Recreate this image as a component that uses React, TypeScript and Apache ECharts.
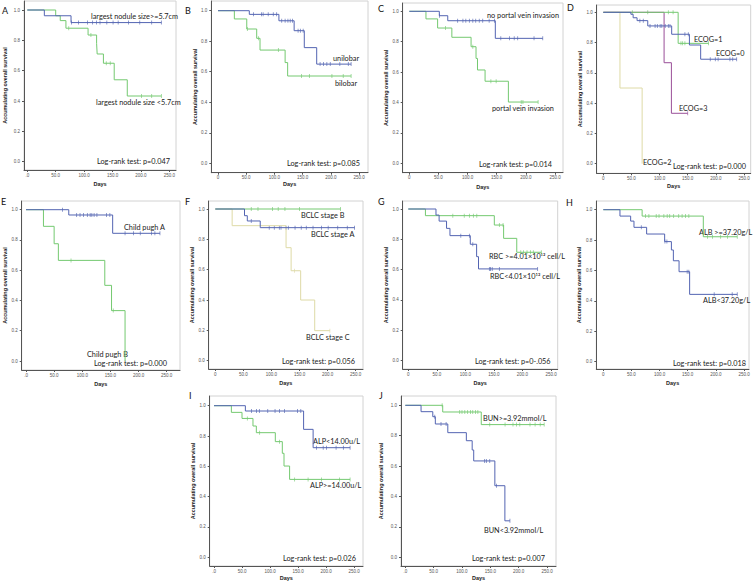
import React, { useEffect, useRef } from "react";
import * as echarts from "echarts";

// ---------- colours ----------
const BLUE = "#5364b2";
const GREEN = "#74c970";
const YELLOW = "#dedaa6";
const PURPLE = "#9a4f98";

// ---------- tick values ----------
const xTickValues = [0, 50, 100, 150, 200, 250];
const yTickValues = [0, 0.2, 0.4, 0.6, 0.8, 1.0];

// ---------- Panel A: largest nodule size ----------
const aBigTimes = [0, 30, 77, 236];
const aBigSurv = [1, 0.962, 0.917, 0.917];
const aBigCensor = [78, 90, 106, 115, 122, 128, 140, 151, 160, 178, 198, 219, 236];
const aSmallTimes = [0, 50, 58, 68, 107, 122, 123, 134, 153, 176, 236];
const aSmallSurv = [1, 0.962, 0.93, 0.88, 0.835, 0.78, 0.71, 0.649, 0.54, 0.433, 0.433];
const aSmallCensor = [73, 112, 139, 146, 201, 219, 236];

// ---------- Panel B: lobar ----------
const bUniTimes = [0, 55.5, 108, 135, 153, 175, 236];
const bUniSurv = [1, 0.976, 0.934, 0.869, 0.758, 0.65, 0.65];
const bUniCensor = [63, 77, 80, 89, 98, 104, 113, 119, 124, 128, 132, 142, 146, 151, 181, 187, 193, 199, 216, 231, 236];
const bBiTimes = [0, 29, 51, 68.6, 74.5, 119, 123.5, 236];
const bBiSurv = [1, 0.946, 0.88, 0.819, 0.742, 0.66, 0.572, 0.572];
const bBiCensor = [52, 72, 107, 148, 162, 202, 222, 236];

// ---------- Panel C: portal vein invasion ----------
const cNoTimes = [0, 51.5, 66, 147.6, 229];
const cNoSurv = [1, 0.971, 0.938, 0.822, 0.822];
const cNoCensor = [52, 83, 92, 97, 103, 109, 114, 120, 126, 137, 146, 157, 172, 180, 186, 214, 229];
const cYesTimes = [0, 28.6, 48.6, 73, 106, 114.5, 117, 130, 170, 221];
const cYesSurv = [1, 0.95, 0.89, 0.829, 0.767, 0.69, 0.614, 0.54, 0.403, 0.403];
const cYesCensor = [62, 109, 140, 149, 192, 195, 221];

// ---------- Panel D: ECOG ----------
const dE0Times = [0, 49, 53, 60, 79, 121.5, 153, 173, 237];
const dE0Surv = [1, 0.987, 0.964, 0.945, 0.91, 0.855, 0.784, 0.69, 0.69];
const dE0Censor = [65, 71, 83, 92, 96, 101, 104, 110, 115.5, 118.5, 145, 151, 190, 199, 204, 225, 230, 237];
const dE1Times = [0, 133, 187];
const dE1Surv = [1, 0.795, 0.795];
const dE1Censor = [51.5, 79, 115.5, 124, 138, 141, 145, 187];
const dE2Times = [0, 29.6, 69];
const dE2Surv = [1, 0.5, 0];
const dE2Censor: number[] = [];
const dE3Times = [0, 108, 121, 150];
const dE3Surv = [1, 0.667, 0.333, 0.333];
const dE3Censor = [150];

// ---------- Panel E: Child pugh ----------
const eATimes = [0, 76, 154, 238];
const eASurv = [1, 0.965, 0.844, 0.844];
const eACensor = [65, 90, 96, 102, 109, 114, 117, 121, 126, 143, 149, 176, 191, 203, 223, 229, 238];
const eBTimes = [0, 31, 50, 57.5, 140, 152, 176];
const eBSurv = [1, 0.89, 0.775, 0.665, 0.5, 0.333, 0];
const eBCensor = [80, 155];

// ---------- Panel F: BCLC ----------
const fBTimes = [0, 223];
const fBSurv = [1, 1];
const fBCensor = [64, 76, 102, 112, 124, 150, 223];
const fATimes = [0, 52, 57, 80, 248];
const fASurv = [1, 0.956, 0.921, 0.877, 0.877];
const fACensor = [64, 96, 105, 114, 117, 126, 130, 142, 153, 162, 174, 189, 201, 218, 235, 248];
const fCTimes = [0, 30, 126, 135, 152, 177, 204];
const fCSurv = [1, 0.89, 0.745, 0.593, 0.4, 0.198, 0.198];
const fCCensor = [141, 204];

// ---------- Panel G: RBC ----------
const gHighTimes = [0, 30, 150.7, 167, 190, 233];
const gHighSurv = [1, 0.956, 0.894, 0.806, 0.714, 0.714];
const gHighCensor = [78, 98, 107, 114, 120, 159.5, 166, 197, 202, 208, 214, 219, 233];
const gLowTimes = [0, 48.5, 54, 67, 73, 108.6, 119.7, 123, 226.6];
const gLowSurv = [1, 0.96, 0.92, 0.872, 0.824, 0.767, 0.685, 0.604, 0.604];
const gLowCensor = [92, 107, 113, 142, 144, 147, 159.5, 226.6];

// ---------- Panel H: ALB ----------
const hHighTimes = [0, 69, 177.7, 238];
const hHighSurv = [1, 0.958, 0.822, 0.822];
const hHighCensor = [75, 81, 94, 99, 107.6, 113.5, 118, 125, 134, 140, 146, 152, 185, 194, 208.5, 220.6, 238];
const hLowTimes = [0, 29.6, 48.6, 54.5, 77, 109, 121, 124.5, 134.6, 153.4, 238];
const hLowSurv = [1, 0.958, 0.925, 0.884, 0.84, 0.79, 0.735, 0.664, 0.592, 0.443, 0.443];
const hLowCensor = [67.5, 109.5, 113, 149, 152, 197, 229, 238];

// ---------- Panel I: ALP ----------
const iLowTimes = [0, 56, 160, 177, 243];
const iLowSurv = [1, 0.965, 0.844, 0.723, 0.723];
const iLowCensor = [67, 76, 81, 96, 109, 117, 126, 149, 155, 183, 195, 201, 218, 231, 243];
const iHighTimes = [0, 31, 50, 69.6, 75.6, 109.5, 122, 125, 135, 243];
const iHighSurv = [1, 0.956, 0.916, 0.866, 0.822, 0.763, 0.686, 0.602, 0.514, 0.514];
const iHighCensor = [59.5, 81.5, 117, 144, 168, 192, 224, 243];

// ---------- Panel J: BUN ----------
const jHighTimes = [0, 66, 134, 245];
const jHighSurv = [1, 0.956, 0.873, 0.873];
const jHighCensor = [65, 96, 100, 105, 110, 115, 119, 124, 128, 149, 176, 190, 196, 202, 220, 229, 238, 245];
const jLowTimes = [0, 27.8, 48.5, 53, 75, 107.7, 118, 120.7, 158, 175.7, 184.6];
const jLowSurv = [1, 0.958, 0.925, 0.877, 0.82, 0.767, 0.706, 0.634, 0.471, 0.24, 0.24];
const jLowCensor = [52, 63, 72, 140, 143, 149, 161, 184.6];

// ---------- texts ----------
const Y_TITLE = "Accumulating overall survival";
const X_TITLE = "Days";

type Curve = { times: number[]; surv: number[]; censors: number[]; color: string };
type Label = { text: string; x: number; y: number };
type Geo = {
  axisX: number; x0: number; x250: number; y1: number; y0: number;
  axisY: number; right: number; top: number; yNameX: number; xNameY: number;
};
type Panel = { letter: string; lx: number; ly: number; zero: string; geo: Geo; curves: Curve[]; labels: Label[] };

const panels: Panel[] = [
  {
    letter: "A", lx: 2, ly: 10, zero: ".0",
    geo: { axisX: 24, x0: 27.3, x250: 169.3, y1: 10, y0: 161.7, axisY: 170, right: 176, top: 1, yNameX: 5, xNameY: 184 },
    curves: [
      { times: aSmallTimes, surv: aSmallSurv, censors: aSmallCensor, color: GREEN },
      { times: aBigTimes, surv: aBigSurv, censors: aBigCensor, color: BLUE },
    ],
    labels: [
      { text: "largest nodule size>=5.7cm", x: 91, y: 16 },
      { text: "largest nodule size <5.7cm", x: 96, y: 102 },
      { text: "Log-rank test: p=0.047", x: 97, y: 161 },
    ],
  },
  {
    letter: "B", lx: 185, ly: 10, zero: "0",
    geo: { axisX: 211.3, x0: 218, x250: 359, y1: 10.7, y0: 163.3, axisY: 172.7, right: 368, top: 1, yNameX: 194.7, xNameY: 184 },
    curves: [
      { times: bBiTimes, surv: bBiSurv, censors: bBiCensor, color: GREEN },
      { times: bUniTimes, surv: bUniSurv, censors: bUniCensor, color: BLUE },
    ],
    labels: [
      { text: "unilobar", x: 333, y: 58 },
      { text: "bilobar", x: 335, y: 83 },
      { text: "Log-rank test: p=0.085", x: 287, y: 163 },
    ],
  },
  {
    letter: "C", lx: 378, ly: 8, zero: "0",
    geo: { axisX: 402.7, x0: 409.3, x250: 555, y1: 11.3, y0: 163.3, axisY: 172.7, right: 563, top: 3, yNameX: 391, xNameY: 186.5 },
    curves: [
      { times: cYesTimes, surv: cYesSurv, censors: cYesCensor, color: GREEN },
      { times: cNoTimes, surv: cNoSurv, censors: cNoCensor, color: BLUE },
    ],
    labels: [
      { text: "no portal vein invasion", x: 487, y: 15 },
      { text: "portal vein invasion", x: 492, y: 108 },
      { text: "Log-rank test: p=0.014", x: 479, y: 164 },
    ],
  },
  {
    letter: "D", lx: 567, ly: 7, zero: "0",
    geo: { axisX: 596.7, x0: 603.3, x250: 744, y1: 12.3, y0: 163.7, axisY: 173.3, right: 750.7, top: 5, yNameX: 584, xNameY: 186 },
    curves: [
      { times: dE2Times, surv: dE2Surv, censors: dE2Censor, color: YELLOW },
      { times: dE3Times, surv: dE3Surv, censors: dE3Censor, color: PURPLE },
      { times: dE1Times, surv: dE1Surv, censors: dE1Censor, color: GREEN },
      { times: dE0Times, surv: dE0Surv, censors: dE0Censor, color: BLUE },
    ],
    labels: [
      { text: "ECOG=1", x: 694, y: 39 },
      { text: "ECOG=0", x: 716, y: 53 },
      { text: "ECOG=3", x: 679, y: 108 },
      { text: "ECOG=2", x: 643, y: 162 },
      { text: "Log-rank test: p=0.000", x: 673, y: 166 },
    ],
  },
  {
    letter: "E", lx: 1, ly: 201, zero: ".0",
    geo: { axisX: 21.7, x0: 26, x250: 166.7, y1: 209.7, y0: 361, axisY: 370, right: 180, top: 201, yNameX: 5, xNameY: 384 },
    curves: [
      { times: eBTimes, surv: eBSurv, censors: eBCensor, color: GREEN },
      { times: eATimes, surv: eASurv, censors: eACensor, color: BLUE },
    ],
    labels: [
      { text: "Child pugh A", x: 124, y: 227 },
      { text: "Child pugh B", x: 87, y: 354 },
      { text: "Log-rank test: p=0.000", x: 94, y: 363 },
    ],
  },
  {
    letter: "F", lx: 185, ly: 201, zero: "0",
    geo: { axisX: 208.7, x0: 215.3, x250: 355.7, y1: 209, y0: 360.7, axisY: 369, right: 363, top: 201, yNameX: 193, xNameY: 383 },
    curves: [
      { times: fCTimes, surv: fCSurv, censors: fCCensor, color: YELLOW },
      { times: fBTimes, surv: fBSurv, censors: fBCensor, color: GREEN },
      { times: fATimes, surv: fASurv, censors: fACensor, color: BLUE },
    ],
    labels: [
      { text: "BCLC stage B", x: 301, y: 215 },
      { text: "BCLC stage A", x: 311, y: 234 },
      { text: "BCLC stage C", x: 306, y: 337 },
      { text: "Log-rank test: p=0.056", x: 282, y: 361 },
    ],
  },
  {
    letter: "G", lx: 378, ly: 201, zero: "0",
    geo: { axisX: 402.7, x0: 408.3, x250: 551, y1: 209, y0: 360.3, axisY: 369, right: 557.7, top: 201, yNameX: 386, xNameY: 383 },
    curves: [
      { times: gHighTimes, surv: gHighSurv, censors: gHighCensor, color: GREEN },
      { times: gLowTimes, surv: gLowSurv, censors: gLowCensor, color: BLUE },
    ],
    labels: [
      { text: "RBC >=4.01×10¹² cell/L", x: 489, y: 256 },
      { text: "RBC<4.01×10¹² cell/L", x: 490, y: 276 },
      { text: "Log-rank test: p=0-.056", x: 475, y: 361 },
    ],
  },
  {
    letter: "H", lx: 566, ly: 202, zero: "0",
    geo: { axisX: 596.3, x0: 603.3, x250: 744, y1: 209.7, y0: 361.7, axisY: 369, right: 749, top: 201, yNameX: 579, xNameY: 383 },
    curves: [
      { times: hHighTimes, surv: hHighSurv, censors: hHighCensor, color: GREEN },
      { times: hLowTimes, surv: hLowSurv, censors: hLowCensor, color: BLUE },
    ],
    labels: [
      { text: "ALB >=37.20g/L", x: 699, y: 232 },
      { text: "ALB<37.20g/L", x: 703, y: 300 },
      { text: "Log-rank test: p=0.018", x: 673, y: 363 },
    ],
  },
  {
    letter: "I", lx: 189, ly: 395, zero: ".0",
    geo: { axisX: 209.7, x0: 214, x250: 354, y1: 405.7, y0: 557.3, axisY: 566, right: 363, top: 396, yNameX: 193, xNameY: 578 },
    curves: [
      { times: iHighTimes, surv: iHighSurv, censors: iHighCensor, color: GREEN },
      { times: iLowTimes, surv: iLowSurv, censors: iLowCensor, color: BLUE },
    ],
    labels: [
      { text: "ALP<14.00u/L", x: 313, y: 441 },
      { text: "ALP>=14.00u/L", x: 310, y: 485 },
      { text: "Log-rank test: p=0.026", x: 283, y: 558 },
    ],
  },
  {
    letter: "J", lx: 379, ly: 395, zero: ".0",
    geo: { axisX: 401, x0: 405.3, x250: 547, y1: 405.3, y0: 557.3, axisY: 566, right: 556, top: 396, yNameX: 381, xNameY: 578 },
    curves: [
      { times: jHighTimes, surv: jHighSurv, censors: jHighCensor, color: GREEN },
      { times: jLowTimes, surv: jLowSurv, censors: jLowCensor, color: BLUE },
    ],
    labels: [
      { text: "BUN>=3.92mmol/L", x: 483, y: 418 },
      { text: "BUN<3.92mmol/L", x: 484, y: 530 },
      { text: "Log-rank test: p=0.007", x: 472, y: 558 },
    ],
  },
];

const TXT_FONT = "Lato, 'Open Sans', sans-serif";
const AX_FONT = "'Liberation Sans', Arial, sans-serif";

function survAt(c: Curve, t: number): number {
  let s = c.surv[0];
  for (let k = 0; k < c.times.length; k++) {
    if (c.times[k] <= t + 1e-9) s = c.surv[k];
  }
  return s;
}

function buildOption() {
  const grid: any[] = [];
  const xAxis: any[] = [];
  const yAxis: any[] = [];
  const series: any[] = [];
  const graphic: any[] = [];

  panels.forEach((p, i) => {
    const g = p.geo;
    const ppd = (g.x250 - g.x0) / 250;
    const ppu = g.y0 - g.y1;
    grid.push({
      left: g.axisX, top: g.top, width: g.right - g.axisX, height: g.axisY - g.top,
      show: true, borderColor: "#d2d2d2", borderWidth: 1, backgroundColor: "transparent",
      containLabel: false, outerBoundsMode: "none",
    });
    xAxis.push({
      type: "value", gridIndex: i,
      min: -(g.x0 - g.axisX) / ppd, max: 250 + (g.right - g.x250) / ppd,
      name: X_TITLE, nameLocation: "middle", nameGap: g.xNameY - g.axisY - 2.8,
      nameTextStyle: { fontSize: 5.5, fontWeight: "bold", color: "#222", fontFamily: AX_FONT },
      axisLine: { show: true, onZero: false, lineStyle: { color: "#555", width: 1 } },
      axisTick: { show: true, length: 2, customValues: xTickValues, lineStyle: { color: "#555", width: 1 } },
      axisLabel: {
        show: true, customValues: xTickValues, fontSize: 4.5, margin: 2.5, color: "#555", fontFamily: AX_FONT,
        formatter: (v: number) => (v === 0 ? p.zero : v.toFixed(1)),
      },
      splitLine: { show: false },
    });
    yAxis.push({
      type: "value", gridIndex: i,
      min: -(g.axisY - g.y0) / ppu, max: 1 + (g.y1 - g.top) / ppu,
      name: Y_TITLE, nameLocation: "middle", nameGap: g.axisX - g.yNameX - 2.7,
      nameTextStyle: { fontSize: 5.4, fontWeight: "bold", color: "#222", fontFamily: AX_FONT },
      axisLine: { show: true, onZero: false, lineStyle: { color: "#555", width: 1 } },
      axisTick: { show: true, length: 2, customValues: yTickValues, lineStyle: { color: "#555", width: 1 } },
      axisLabel: {
        show: true, customValues: yTickValues, fontSize: 4.5, margin: 4, color: "#555", fontFamily: AX_FONT,
        formatter: (v: number) => v.toFixed(1),
      },
      splitLine: { show: false },
    });
    p.curves.forEach((c) => {
      series.push({
        type: "line", xAxisIndex: i, yAxisIndex: i, step: "end", symbol: "none", silent: true,
        data: c.times.map((t, k) => [t, c.surv[k]]),
        lineStyle: { color: c.color, width: 1 }, itemStyle: { color: c.color },
      });
      if (c.censors.length) {
        series.push({
          type: "scatter", xAxisIndex: i, yAxisIndex: i, silent: true,
          data: c.censors.map((t) => [t, survAt(c, t)]),
          symbol: "rect", symbolSize: [0.8, 4], itemStyle: { color: c.color },
        });
      }
    });
    graphic.push({
      type: "text", x: p.lx, y: p.ly, silent: true,
      style: { text: p.letter, fontSize: 9, fontFamily: TXT_FONT, fill: "#111", textVerticalAlign: "middle", verticalAlign: "middle" },
    });
    p.labels.forEach((l) => {
      graphic.push({
        type: "text", x: l.x, y: l.y, silent: true,
        style: { text: l.text, fontSize: 7.3, fontFamily: TXT_FONT, fill: "#222", textVerticalAlign: "middle", verticalAlign: "middle" },
      });
    });
  });

  return { animation: false, backgroundColor: "#ffffff", grid, xAxis, yAxis, series, graphic };
}

export default function App() {
  const ref = useRef<HTMLDivElement>(null);
  useEffect(() => {
    if (!ref.current) return;
    const chart = echarts.init(ref.current, undefined, { renderer: "svg" });
    chart.setOption(buildOption() as any);
    return () => chart.dispose();
  }, []);
  return (
    <div
      ref={ref}
      style={{ position: "fixed", left: 0, top: 0, width: 754, height: 584, background: "#fff" }}
    />
  );
}
